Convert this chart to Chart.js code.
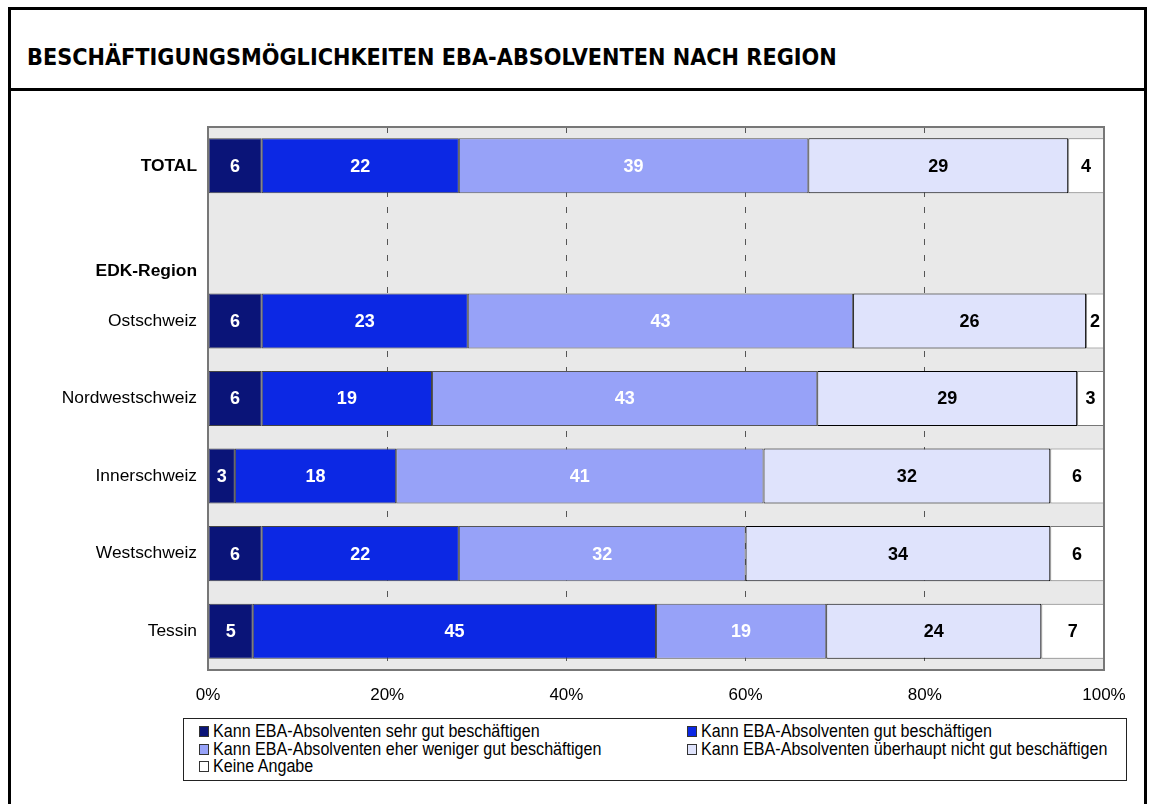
<!DOCTYPE html>
<html>
<head>
<meta charset="utf-8">
<script src="https://cdn.jsdelivr.net/npm/chart.js@4.4.1/dist/chart.umd.min.js"></script>
<style>
  body { margin: 0; background: #fff; width: 1153px; height: 804px; overflow: hidden; position: relative; font-family: "Liberation Sans", Arial, sans-serif; }
  #frame { position: absolute; left: 8px; top: 7px; width: 1139px; height: 830px; border: 3px solid #000; box-sizing: border-box; }
  #titel { position: absolute; left: 8px; top: 7px; width: 1139px; height: 84px; border: 3px solid #000; box-sizing: border-box;
    font-family: "DejaVu Sans Condensed", "DejaVu Sans", sans-serif; font-weight: bold; font-stretch: condensed;
    font-size: 23.2px; line-height: 28px; padding: 33px 0 0 16px; color: #000; }
  #chart { position: absolute; left: 0; top: 0; }
  #legende { position: absolute; left: 183px; top: 718px; width: 944px; height: 63px; border: 1px solid #222;
    display: grid; grid-template-columns: 488px auto; grid-auto-rows: 17.5px; padding-top: 4px; box-sizing: border-box;
    font-size: 17.5px; color: #000; }
  #legende div { display: flex; align-items: center; padding-left: 15px; white-space: nowrap; }
  #legende span.box { display: inline-block; width: 8px; height: 9px; border: 1px solid #333; margin-right: 4px; flex: none; }
  #legende span.txt { display: inline-block; transform: scaleX(0.92); transform-origin: left center; }
</style>
</head>
<body>
<div id="frame"></div>
<div id="titel">BESCHÄFTIGUNGSMÖGLICHKEITEN EBA-ABSOLVENTEN NACH REGION</div>
<canvas id="chart" width="1153" height="710"></canvas>
<div id="legende"></div>
<script>
// Regionen (zweite Zeile ist nur Zwischentitel ohne Balken)
const regionen = ["TOTAL", ["", "", "", "EDK-Region"], "Ostschweiz", "Nordwestschweiz", "Innerschweiz", "Westschweiz", "Tessin"];

const serienNamen = [
  "Kann EBA-Absolventen sehr gut beschäftigen",
  "Kann EBA-Absolventen gut beschäftigen",
  "Kann EBA-Absolventen eher weniger gut beschäftigen",
  "Kann EBA-Absolventen überhaupt nicht gut beschäftigen",
  "Keine Angabe",
];

// Anteile in Prozent
const sehrGut      = [6, null, 6, 6, 3, 6, 5];
const gut          = [22, null, 23, 19, 18, 22, 45];
const wenigerGut   = [39, null, 43, 43, 41, 32, 19];
const nichtGut     = [29, null, 26, 29, 32, 34, 24];
const keineAngabe  = [4, null, 2, 3, 6, 6, 7];

const xTicks = [0, 20, 40, 60, 80, 100];

const farben = ["#0a1478", "#0c28e4", "#97a2f8", "#dfe3fc", "#ffffff"];
const rahmen = ["#444", "#444", "#555", "#000", "#777"];
const textFarben = ["#fff", "#fff", "#fff", "#000", "#000"];

const werte = [sehrGut, gut, wenigerGut, nichtGut, keineAngabe];

// Hintergrund und Rahmen der Zeichenfläche
const plotFlaeche = {
  id: "plotFlaeche",
  beforeDraw(chart) {
    const { ctx, chartArea: a } = chart;
    ctx.save();
    ctx.fillStyle = "#e9e9e9";
    ctx.fillRect(a.left, a.top, a.right - a.left, a.bottom - a.top);
    ctx.restore();
  },
  afterDraw(chart) {
    const { ctx, chartArea: a } = chart;
    ctx.save();
    ctx.strokeStyle = "#777";
    ctx.lineWidth = 2;
    ctx.strokeRect(a.left, a.top, a.right - a.left, a.bottom - a.top);
    ctx.restore();
  },
};

// Zahlen in die Segmente schreiben
const segmentZahlen = {
  id: "segmentZahlen",
  afterDatasetsDraw(chart) {
    const { ctx } = chart;
    ctx.save();
    ctx.font = "bold 18px 'Liberation Sans', Arial, sans-serif";
    ctx.textAlign = "center";
    ctx.textBaseline = "middle";
    chart.data.datasets.forEach((ds, i) => {
      const meta = chart.getDatasetMeta(i);
      meta.data.forEach((el, j) => {
        const v = ds.data[j];
        if (v == null) return;
        ctx.fillStyle = textFarben[i];
        ctx.fillText(String(v), (el.x + el.base) / 2, el.y + 1);
      });
    });
    ctx.restore();
  },
};

const chart = new Chart("chart", {
  type: "bar",
  data: {
    labels: regionen,
    datasets: werte.map((d, i) => ({
      label: serienNamen[i],
      data: d,
      backgroundColor: farben[i],
      borderColor: rahmen[i],
      borderWidth: 1,
      borderSkipped: false,
      barPercentage: 1,
      categoryPercentage: 0.71,
    })),
  },
  options: {
    indexAxis: "y",
    responsive: false,
    animation: false,
    layout: { padding: { left: 8, right: 49, top: 127, bottom: 0 } },
    plugins: { legend: { display: false }, tooltip: { enabled: false } },
    scales: {
      x: {
        stacked: true,
        min: 0,
        max: 100,
        afterBuildTicks: (scale) => { scale.ticks = xTicks.map((v) => ({ value: v })); },
        afterFit: (scale) => { scale.height = 40; },
        ticks: {
          callback: (v) => v + "%",
          color: "#000",
          padding: 15,
          font: { family: "'Liberation Sans', Arial, sans-serif", size: 17 },
          maxRotation: 0,
        },
        grid: {
          drawTicks: false,
          color: (c) => (c.tick && (c.tick.value === 0 || c.tick.value === 100) ? "rgba(0,0,0,0)" : "#555"),
          lineWidth: 1,
        },
        border: { display: false, dash: [6, 10] },
      },
      y: {
        stacked: true,
        afterFit: (scale) => { scale.width = 200; },
        ticks: {
          color: "#000",
          padding: 11,
          font: (c) => ({
            family: "'Liberation Sans', Arial, sans-serif",
            size: 17.4,
            weight: c.index <= 1 ? "bold" : "normal",
            lineHeight: 1.05,
          }),
        },
        grid: { display: false, drawTicks: false },
        border: { display: false },
      },
    },
  },
  plugins: [plotFlaeche, segmentZahlen],
});

// Legende in zwei Spalten
const legende = document.getElementById("legende");
serienNamen.forEach((name, i) => {
  const item = document.createElement("div");
  item.innerHTML = `<span class="box" style="background:${farben[i]}"></span><span class="txt">${name}</span>`;
  legende.appendChild(item);
});
</script>
</body>
</html>
